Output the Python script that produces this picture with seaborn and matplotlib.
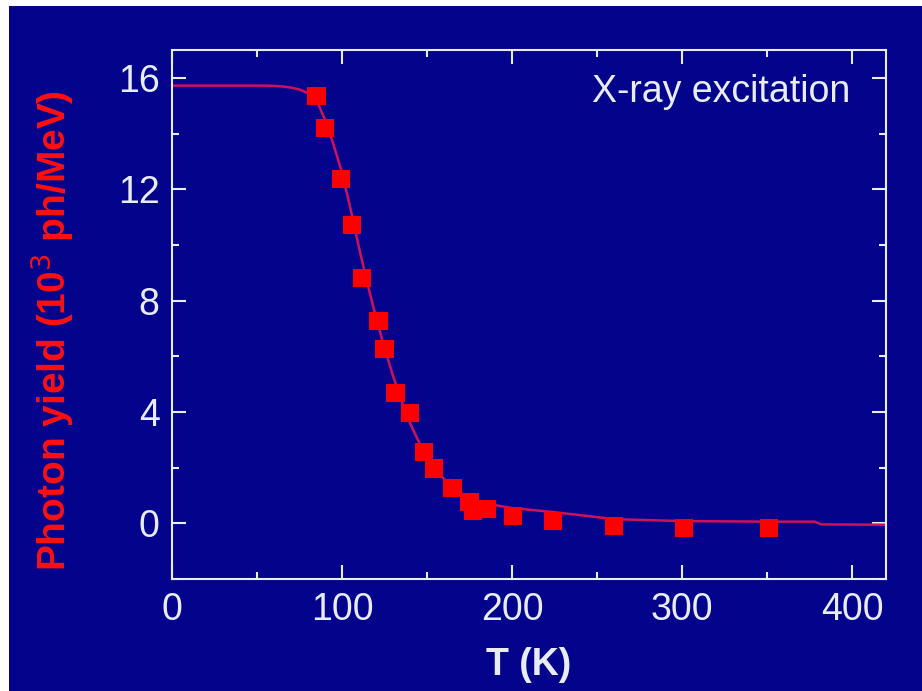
import matplotlib
matplotlib.use("Agg")
import matplotlib.pyplot as plt
import seaborn as sns
import pandas as pd
from matplotlib.patches import Rectangle
from matplotlib.ticker import MultipleLocator

# Measured data (squares)
temp_K = [85, 90, 99.5, 106, 112, 121.5, 125, 131.5, 140, 148, 154, 165, 175, 177, 185, 200.5, 224, 260, 301, 351]
yield_k = [15.36, 14.2, 12.36, 10.7, 8.8, 7.27, 6.25, 4.69, 3.95, 2.56, 1.97, 1.27, 0.77, 0.45, 0.52, 0.25, 0.08, -0.11, -0.17, -0.17]

# Fit curve
fit_T = [0, 20, 40, 55, 60, 65, 70, 75, 80, 85, 90, 95, 100, 105, 110, 115, 120, 125, 130, 135, 140, 145,
         150, 155, 160, 165, 170, 175, 180, 190, 200, 225, 260, 300, 350, 378, 382, 420]
fit_Y = [15.72, 15.72, 15.72, 15.72, 15.71, 15.69, 15.65, 15.58, 15.45, 15.2, 14.5, 13.6, 12.6, 11.3,
         9.9, 8.6, 7.4, 6.3, 5.3, 4.4, 3.6, 2.95, 2.4, 1.95, 1.6, 1.3, 1.08, 0.9, 0.78, 0.65, 0.55,
         0.4, 0.15, 0.08, 0.06, 0.06, -0.04, -0.05]

x_ticks = [0, 100, 200, 300, 400]
y_ticks = [0, 4, 8, 12, 16]

NAVY = "#03038c"
FG = "#e8ecf4"

sns.set_theme(style="ticks")
plt.rcParams["font.family"] = ["Liberation Sans", "DejaVu Sans"]

fig = plt.figure(figsize=(9.22, 6.91), dpi=100)
fig.patch.set_facecolor("white")
fig.patches.append(Rectangle((9 / 922, 0), 1, 1 - 6 / 691, transform=fig.transFigure,
                             facecolor=NAVY, edgecolor="none", zorder=-10))

ax = fig.add_axes([172 / 922, 1 - 579 / 691, (886 - 172) / 922, (579 - 50) / 691])
ax.set_facecolor(NAVY)

sns.lineplot(x=fit_T, y=fit_Y, ax=ax, color="#d0105a", linewidth=1.8, zorder=2)
sns.scatterplot(x=temp_K, y=yield_k, ax=ax, marker="s", s=170, color="#ff0000",
                edgecolor="none", linewidth=0, zorder=3)

ax.set_xlim(0, 420)
ax.set_ylim(-2, 17)
ax.set_xticks(x_ticks)
ax.set_yticks(y_ticks)
ax.xaxis.set_minor_locator(MultipleLocator(50))
ax.yaxis.set_minor_locator(MultipleLocator(2))

for s in ax.spines.values():
    s.set_color(FG)
    s.set_linewidth(1.5)
    s.set_visible(True)

ax.tick_params(which="both", direction="in", top=True, right=True, color=FG,
               labelcolor=FG, labelsize=27, width=1.5)
ax.tick_params(which="major", length=10, pad=9)
ax.tick_params(which="minor", length=5)

ax.set_xlabel("T (K)", color=FG, fontsize=27, fontweight="bold", labelpad=14)
ax.set_ylabel("Photon yield (10$^3$ ph/MeV)", color="#ff1010", fontsize=28,
              fontweight="bold")
ax.yaxis.set_label_coords(-0.134, 0.47)

ax.text(0.95, 0.955, "X-ray excitation", transform=ax.transAxes, ha="right", va="top",
        color=FG, fontsize=27)

fig.savefig("out.png", dpi=100, facecolor=fig.get_facecolor())
